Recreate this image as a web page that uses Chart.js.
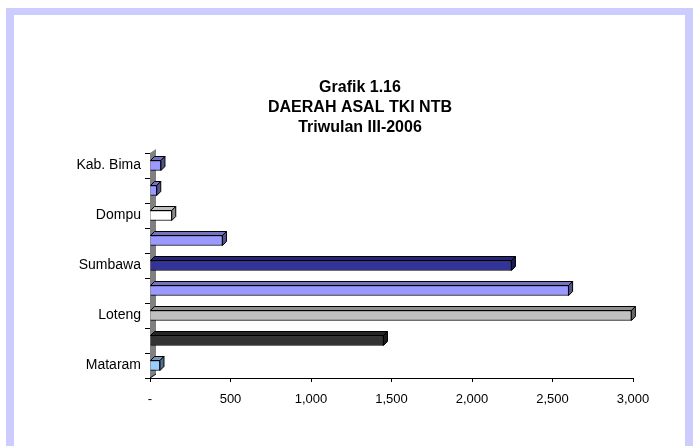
<!DOCTYPE html>
<html>
<head>
<meta charset="utf-8">
<script src="https://cdn.jsdelivr.net/npm/chart.js@4/dist/chart.umd.min.js"></script>
<style>
  html, body { margin: 0; padding: 0; background: #ffffff; overflow: hidden; }
  #frame { position: absolute; left: 6px; top: 8px; width: 671px; height: 460px;
           border-left: 8px solid #CCCCFF; border-top: 7px solid #CCCCFF; border-right: 8px solid #CCCCFF;
           background: #ffffff; }
  #wrap { position: absolute; left: 0; top: 0; width: 693px; height: 446px; }
</style>
</head>
<body>
<div id="frame"></div>
<div id="wrap"><canvas id="c" width="693" height="446"></canvas></div>
<script>
// Data (bottom to top)
const categories = ["Mataram", "Lobar", "Loteng", "Lotim", "Sumbawa", "KSB", "Dompu", "Kota Bima", "Kab. Bima"];
const tkiValues = [62, 1450, 2990, 2600, 2245, 450, 135, 42, 68];
const barColors = ["#99CCFF", "#333333", "#C0C0C0", "#9999FF", "#333399", "#9999FF", "#FFFFFF", "#9999FF", "#9999FF"];
const titleLines = ["Grafik 1.16", "DAERAH ASAL TKI NTB", "Triwulan III-2006"];
const xTickValues = [0, 500, 1000, 1500, 2000, 2500, 3000];

function shade(hex, f) {
  const n = parseInt(hex.slice(1), 16);
  const r = Math.round(((n >> 16) & 255) * f), g = Math.round(((n >> 8) & 255) * f), b = Math.round((n & 255) * f);
  return `rgb(${r},${g},${b})`;
}

const DX = 4, DY = 4;

const depthPlugin = {
  id: 'depth3d',
  beforeDatasetsDraw(chart) {
    const ctx = chart.ctx, a = chart.chartArea;
    ctx.save();
    ctx.fillStyle = '#808080';
    ctx.strokeStyle = '#000000';
    ctx.lineWidth = 1;
    ctx.beginPath();
    ctx.moveTo(a.left, a.bottom);
    ctx.lineTo(a.left, a.top);
    ctx.lineTo(a.left + DX + 2, a.top - DY);
    ctx.lineTo(a.left + DX + 2, a.bottom - DY);
    ctx.closePath();
    ctx.fill();
    ctx.beginPath();
    ctx.moveTo(a.left, a.bottom);
    ctx.lineTo(a.left + DX + 2, a.bottom - DY);
    ctx.stroke();
    ctx.restore();
  },
  afterDatasetsDraw(chart) {
    const ctx = chart.ctx;
    const meta = chart.getDatasetMeta(0);
    ctx.save();
    ctx.strokeStyle = '#000000';
    ctx.lineWidth = 1;
    meta.data.forEach((el, i) => {
      const col = barColors[i];
      const top = el.y - el.height / 2, bot = el.y + el.height / 2;
      const x0 = el.base, x1 = el.x;
      // top face
      ctx.fillStyle = shade(col, 0.75);
      ctx.beginPath();
      ctx.moveTo(x0, top); ctx.lineTo(x0 + DX, top - DY); ctx.lineTo(x1 + DX, top - DY); ctx.lineTo(x1, top); ctx.closePath();
      ctx.fill(); ctx.stroke();
      // right face
      ctx.fillStyle = shade(col, 0.55);
      ctx.beginPath();
      ctx.moveTo(x1, top); ctx.lineTo(x1 + DX, top - DY); ctx.lineTo(x1 + DX, bot - DY); ctx.lineTo(x1, bot); ctx.closePath();
      ctx.fill(); ctx.stroke();
    });
    ctx.restore();
  }
};

new Chart(document.getElementById('c'), {
  type: 'bar',
  data: {
    labels: categories,
    datasets: [{
      label: 'TKI',
      data: tkiValues,
      backgroundColor: barColors,
      borderColor: '#000000',
      borderWidth: 1,
      barThickness: 10
    }]
  },
  options: {
    indexAxis: 'y',
    responsive: false,
    animation: false,
    devicePixelRatio: 1,
    layout: { padding: { left: 27, right: 0, top: 0, bottom: 0 } },
    plugins: {
      legend: { display: false },
      tooltip: { enabled: false },
      title: {
        display: true,
        text: titleLines,
        color: '#000000',
        font: { family: 'Liberation Sans, Arial, sans-serif', size: 16, weight: 'bold', lineHeight: 1.25 },
        padding: { top: 78, bottom: 15 }
      }
    },
    scales: {
      x: {
        min: 0, max: 3000,
        afterBuildTicks(scale) { scale.ticks = xTickValues.map(v => ({ value: v })); },
        afterFit(scale) { scale.height = 68; scale.paddingRight = 60; },
        grid: { drawOnChartArea: false, drawTicks: true, tickLength: 4, color: '#000000' },
        border: { display: true, color: '#000000', width: 1 },
        ticks: {
          color: '#000000',
          padding: 10,
          maxRotation: 0,
          font: { family: 'Liberation Sans, Arial, sans-serif', size: 13 },
          callback: (v) => v === 0 ? '-' : Number(v).toLocaleString('en-US')
        }
      },
      y: {
        reverse: true,
        afterFit(scale) { scale.width = 123; },
        grid: { drawOnChartArea: false, drawTicks: true, tickLength: 5, color: '#000000', offset: true },
        border: { display: true, color: '#000000', width: 1 },
        ticks: {
          color: '#000000',
          padding: 4,
          autoSkip: false,
          font: { family: 'Liberation Sans, Arial, sans-serif', size: 14 },
          callback: function (v, i) { return i % 2 === 0 ? categories[i] : ''; }
        }
      }
    }
  },
  plugins: [depthPlugin]
});
</script>
</body>
</html>
